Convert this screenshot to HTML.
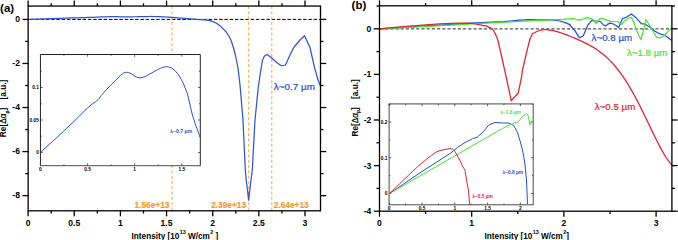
<!DOCTYPE html>
<html><head><meta charset="utf-8"><style>
html,body{margin:0;padding:0;background:#fff;}
svg{display:block;font-family:"Liberation Sans", sans-serif;}
</style></head><body>
<svg width="678" height="240" viewBox="0 0 678 240">
<line x1="28.15" y1="19.40" x2="320.50" y2="19.40" stroke="#000" stroke-width="1.0" stroke-dasharray="3.5 1.75" stroke-dashoffset="3.25"/>
<line x1="172.09" y1="6.05" x2="172.09" y2="210.80" stroke="#f4a444" stroke-width="1.2" stroke-dasharray="3 2.3" stroke-opacity="0.85"/>
<line x1="248.70" y1="6.05" x2="248.70" y2="210.80" stroke="#f4a444" stroke-width="1.2" stroke-dasharray="3 2.3" stroke-opacity="0.85"/>
<line x1="271.77" y1="6.05" x2="271.77" y2="210.80" stroke="#f4a444" stroke-width="1.2" stroke-dasharray="3 2.3" stroke-opacity="0.85"/>
<path d="M28.20,19.39 L45.33,18.86 L64.90,18.21 L71.36,17.98 L78.51,17.76 L82.03,17.68 L84.87,17.60 L87.71,17.47 L92.70,17.27 L97.40,17.11 L102.10,16.94 L106.70,16.78 L109.44,16.71 L111.98,16.68 L114.63,16.69 L117.27,16.73 L119.71,16.79 L122.06,16.84 L124.61,16.87 L126.57,16.87 L130.48,16.83 L134.49,16.75 L138.31,16.68 L142.42,16.60 L145.65,16.54 L149.08,16.50 L151.53,16.49 L153.58,16.50 L156.42,16.54 L159.65,16.61 L163.27,16.77 L167.68,17.03 L172.08,17.42 L200.00,19.60 L205.00,19.90 L209.00,20.40 L212.50,21.40 L216.00,23.00 L220.00,25.75 L223.00,28.60 L226.25,32.00 L229.00,36.30 L231.25,40.75 L233.50,48.00 L235.50,55.50 L238.00,68.00 L240.00,85.00 L243.00,120.00 L245.30,170.00 L246.20,180.00 L247.50,190.00 L248.60,200.30 L249.80,190.00 L251.00,180.00 L252.30,170.00 L255.00,120.00 L258.00,90.00 L260.00,75.00 L262.50,60.00 L264.50,56.00 L267.00,54.50 L271.25,57.50 L276.00,62.00 L281.25,65.75 L285.50,65.00 L290.00,55.00 L293.75,47.50 L300.00,40.00 L304.50,35.75 L310.00,47.50 L314.50,67.50 L318.00,80.00 L320.50,86.00" fill="none" stroke="#2d55d6" stroke-width="1.25" stroke-linejoin="round" />
<text x="169.40" y="208.40" font-size="8.3" text-anchor="end" fill="#f29a2e" font-weight="bold" stroke="#f29a2e" stroke-width="0.2">1.56e+13</text>
<text x="246.00" y="208.40" font-size="8.3" text-anchor="end" fill="#f29a2e" font-weight="bold" stroke="#f29a2e" stroke-width="0.2">2.39e+13</text>
<text x="273.80" y="208.40" font-size="8.3" text-anchor="start" fill="#f29a2e" font-weight="bold" stroke="#f29a2e" stroke-width="0.2">2.64e+13</text>
<text transform="translate(273.80,89.60) scale(1.100,1)" font-size="9" fill="#2d55d6" stroke="#2d55d6" stroke-width="0.25" font-weight="normal">λ~0.7 µm</text>
<rect x="40.45" y="54.5" width="159.85000000000002" height="111.1" fill="#fff" stroke="none"/>
<path d="M40.45,165.6 V54.5 H200.3 V165.6" fill="none" stroke="#222" stroke-width="1"/>
<line x1="39.95" y1="165.7" x2="200.8" y2="165.7" stroke="#707070" stroke-width="1.3"/>
<line x1="40.40" y1="165.60" x2="40.40" y2="163.40" stroke="#333" stroke-width="0.8" />
<line x1="40.40" y1="54.50" x2="40.40" y2="56.70" stroke="#333" stroke-width="0.8" />
<text x="40.40" y="170.60" font-size="4.8" text-anchor="middle" fill="#000" font-weight="bold" >0</text>
<line x1="63.97" y1="165.60" x2="63.97" y2="164.30" stroke="#333" stroke-width="0.8" />
<line x1="63.97" y1="54.50" x2="63.97" y2="55.80" stroke="#333" stroke-width="0.8" />
<line x1="87.55" y1="165.60" x2="87.55" y2="163.40" stroke="#333" stroke-width="0.8" />
<line x1="87.55" y1="54.50" x2="87.55" y2="56.70" stroke="#333" stroke-width="0.8" />
<text x="87.55" y="170.60" font-size="4.8" text-anchor="middle" fill="#000" font-weight="bold" >0.5</text>
<line x1="111.12" y1="165.60" x2="111.12" y2="164.30" stroke="#333" stroke-width="0.8" />
<line x1="111.12" y1="54.50" x2="111.12" y2="55.80" stroke="#333" stroke-width="0.8" />
<line x1="134.70" y1="165.60" x2="134.70" y2="163.40" stroke="#333" stroke-width="0.8" />
<line x1="134.70" y1="54.50" x2="134.70" y2="56.70" stroke="#333" stroke-width="0.8" />
<text x="134.70" y="170.60" font-size="4.8" text-anchor="middle" fill="#000" font-weight="bold" >1</text>
<line x1="158.28" y1="165.60" x2="158.28" y2="164.30" stroke="#333" stroke-width="0.8" />
<line x1="158.28" y1="54.50" x2="158.28" y2="55.80" stroke="#333" stroke-width="0.8" />
<line x1="181.85" y1="165.60" x2="181.85" y2="163.40" stroke="#333" stroke-width="0.8" />
<line x1="181.85" y1="54.50" x2="181.85" y2="56.70" stroke="#333" stroke-width="0.8" />
<text x="181.85" y="170.60" font-size="4.8" text-anchor="middle" fill="#000" font-weight="bold" >1.5</text>
<line x1="40.45" y1="152.50" x2="42.65" y2="152.50" stroke="#333" stroke-width="0.8" />
<line x1="200.30" y1="152.50" x2="198.10" y2="152.50" stroke="#333" stroke-width="0.8" />
<text x="38.85" y="154.20" font-size="4.8" text-anchor="end" fill="#000" font-weight="bold" >0</text>
<line x1="40.45" y1="136.25" x2="41.75" y2="136.25" stroke="#333" stroke-width="0.8" />
<line x1="200.30" y1="136.25" x2="199.00" y2="136.25" stroke="#333" stroke-width="0.8" />
<line x1="40.45" y1="120.00" x2="42.65" y2="120.00" stroke="#333" stroke-width="0.8" />
<line x1="200.30" y1="120.00" x2="198.10" y2="120.00" stroke="#333" stroke-width="0.8" />
<text x="38.85" y="121.70" font-size="4.8" text-anchor="end" fill="#000" font-weight="bold" >0.05</text>
<line x1="40.45" y1="103.75" x2="41.75" y2="103.75" stroke="#333" stroke-width="0.8" />
<line x1="200.30" y1="103.75" x2="199.00" y2="103.75" stroke="#333" stroke-width="0.8" />
<line x1="40.45" y1="87.50" x2="42.65" y2="87.50" stroke="#333" stroke-width="0.8" />
<line x1="200.30" y1="87.50" x2="198.10" y2="87.50" stroke="#333" stroke-width="0.8" />
<text x="38.85" y="89.20" font-size="4.8" text-anchor="end" fill="#000" font-weight="bold" >0.1</text>
<line x1="40.45" y1="71.25" x2="41.75" y2="71.25" stroke="#333" stroke-width="0.8" />
<line x1="200.30" y1="71.25" x2="199.00" y2="71.25" stroke="#333" stroke-width="0.8" />
<path d="M40.50,152.30 L58.00,136.50 L78.00,117.50 L84.60,110.60 L91.90,104.20 L95.50,101.80 L98.40,99.40 L101.30,95.60 L106.40,89.60 L111.20,84.80 L116.00,79.80 L120.70,75.20 L123.50,73.00 L126.10,72.20 L128.80,72.60 L131.50,73.80 L134.00,75.60 L136.40,77.00 L139.00,77.80 L141.00,77.90 L145.00,76.60 L149.10,74.40 L153.00,72.20 L157.20,69.80 L160.50,68.20 L164.00,67.00 L166.50,66.70 L168.60,66.90 L171.50,68.00 L174.80,70.30 L178.50,74.80 L183.00,82.50 L187.50,94.00 L192.40,115.00 L196.00,126.00 L200.30,137.50" fill="none" stroke="#2d55d6" stroke-width="1.0" stroke-linejoin="round" />
<text x="170.00" y="132.60" font-size="5.2" text-anchor="start" fill="#2d55d6" font-weight="bold" >λ~0.7 µm</text>
<rect x="28.15" y="6.05" width="292.35" height="204.75" fill="none" stroke="#000" stroke-width="1.3"/>
<line x1="28.10" y1="210.80" x2="28.10" y2="216.30" stroke="#000" stroke-width="1.3" />
<line x1="28.10" y1="6.05" x2="28.10" y2="0.55" stroke="#000" stroke-width="1.3" />
<text x="28.10" y="225.60" font-size="8.6" text-anchor="middle" fill="#000" font-weight="bold" >0</text>
<line x1="51.17" y1="210.80" x2="51.17" y2="213.50" stroke="#000" stroke-width="1.3" />
<line x1="51.17" y1="6.05" x2="51.17" y2="3.35" stroke="#000" stroke-width="1.3" />
<line x1="74.25" y1="210.80" x2="74.25" y2="216.30" stroke="#000" stroke-width="1.3" />
<line x1="74.25" y1="6.05" x2="74.25" y2="0.55" stroke="#000" stroke-width="1.3" />
<text x="74.25" y="225.60" font-size="8.6" text-anchor="middle" fill="#000" font-weight="bold" >0.5</text>
<line x1="97.32" y1="210.80" x2="97.32" y2="213.50" stroke="#000" stroke-width="1.3" />
<line x1="97.32" y1="6.05" x2="97.32" y2="3.35" stroke="#000" stroke-width="1.3" />
<line x1="120.40" y1="210.80" x2="120.40" y2="216.30" stroke="#000" stroke-width="1.3" />
<line x1="120.40" y1="6.05" x2="120.40" y2="0.55" stroke="#000" stroke-width="1.3" />
<text x="120.40" y="225.60" font-size="8.6" text-anchor="middle" fill="#000" font-weight="bold" >1</text>
<line x1="143.47" y1="210.80" x2="143.47" y2="213.50" stroke="#000" stroke-width="1.3" />
<line x1="143.47" y1="6.05" x2="143.47" y2="3.35" stroke="#000" stroke-width="1.3" />
<line x1="166.55" y1="210.80" x2="166.55" y2="216.30" stroke="#000" stroke-width="1.3" />
<line x1="166.55" y1="6.05" x2="166.55" y2="0.55" stroke="#000" stroke-width="1.3" />
<text x="166.55" y="225.60" font-size="8.6" text-anchor="middle" fill="#000" font-weight="bold" >1.5</text>
<line x1="189.62" y1="210.80" x2="189.62" y2="213.50" stroke="#000" stroke-width="1.3" />
<line x1="189.62" y1="6.05" x2="189.62" y2="3.35" stroke="#000" stroke-width="1.3" />
<line x1="212.70" y1="210.80" x2="212.70" y2="216.30" stroke="#000" stroke-width="1.3" />
<line x1="212.70" y1="6.05" x2="212.70" y2="0.55" stroke="#000" stroke-width="1.3" />
<text x="212.70" y="225.60" font-size="8.6" text-anchor="middle" fill="#000" font-weight="bold" >2</text>
<line x1="235.77" y1="210.80" x2="235.77" y2="213.50" stroke="#000" stroke-width="1.3" />
<line x1="235.77" y1="6.05" x2="235.77" y2="3.35" stroke="#000" stroke-width="1.3" />
<line x1="258.85" y1="210.80" x2="258.85" y2="216.30" stroke="#000" stroke-width="1.3" />
<line x1="258.85" y1="6.05" x2="258.85" y2="0.55" stroke="#000" stroke-width="1.3" />
<text x="258.85" y="225.60" font-size="8.6" text-anchor="middle" fill="#000" font-weight="bold" >2.5</text>
<line x1="281.93" y1="210.80" x2="281.93" y2="213.50" stroke="#000" stroke-width="1.3" />
<line x1="281.93" y1="6.05" x2="281.93" y2="3.35" stroke="#000" stroke-width="1.3" />
<line x1="305.00" y1="210.80" x2="305.00" y2="216.30" stroke="#000" stroke-width="1.3" />
<line x1="305.00" y1="6.05" x2="305.00" y2="0.55" stroke="#000" stroke-width="1.3" />
<text x="305.00" y="225.60" font-size="8.6" text-anchor="middle" fill="#000" font-weight="bold" >3</text>
<line x1="28.15" y1="19.40" x2="22.45" y2="19.40" stroke="#000" stroke-width="1.3" />
<line x1="320.50" y1="19.40" x2="326.20" y2="19.40" stroke="#000" stroke-width="1.3" />
<text x="20.00" y="22.20" font-size="8.6" text-anchor="end" fill="#000" font-weight="bold" >0</text>
<line x1="28.15" y1="41.43" x2="25.15" y2="41.43" stroke="#000" stroke-width="1.3" />
<line x1="320.50" y1="41.43" x2="323.50" y2="41.43" stroke="#000" stroke-width="1.3" />
<line x1="28.15" y1="63.46" x2="22.45" y2="63.46" stroke="#000" stroke-width="1.3" />
<line x1="320.50" y1="63.46" x2="326.20" y2="63.46" stroke="#000" stroke-width="1.3" />
<text x="20.00" y="66.26" font-size="8.6" text-anchor="end" fill="#000" font-weight="bold" >-2</text>
<line x1="28.15" y1="85.49" x2="25.15" y2="85.49" stroke="#000" stroke-width="1.3" />
<line x1="320.50" y1="85.49" x2="323.50" y2="85.49" stroke="#000" stroke-width="1.3" />
<line x1="28.15" y1="107.52" x2="22.45" y2="107.52" stroke="#000" stroke-width="1.3" />
<line x1="320.50" y1="107.52" x2="326.20" y2="107.52" stroke="#000" stroke-width="1.3" />
<text x="20.00" y="110.32" font-size="8.6" text-anchor="end" fill="#000" font-weight="bold" >-4</text>
<line x1="28.15" y1="129.55" x2="25.15" y2="129.55" stroke="#000" stroke-width="1.3" />
<line x1="320.50" y1="129.55" x2="323.50" y2="129.55" stroke="#000" stroke-width="1.3" />
<line x1="28.15" y1="151.58" x2="22.45" y2="151.58" stroke="#000" stroke-width="1.3" />
<line x1="320.50" y1="151.58" x2="326.20" y2="151.58" stroke="#000" stroke-width="1.3" />
<text x="20.00" y="154.38" font-size="8.6" text-anchor="end" fill="#000" font-weight="bold" >-6</text>
<line x1="28.15" y1="173.61" x2="25.15" y2="173.61" stroke="#000" stroke-width="1.3" />
<line x1="320.50" y1="173.61" x2="323.50" y2="173.61" stroke="#000" stroke-width="1.3" />
<line x1="28.15" y1="195.64" x2="22.45" y2="195.64" stroke="#000" stroke-width="1.3" />
<line x1="320.50" y1="195.64" x2="326.20" y2="195.64" stroke="#000" stroke-width="1.3" />
<text x="20.00" y="198.44" font-size="8.6" text-anchor="end" fill="#000" font-weight="bold" >-8</text>
<text x="131.60" y="238.50" font-size="8.2" text-anchor="start" fill="#000" font-weight="bold" >Intensity [10<tspan font-size="5.4" dx="0.4" dy="-4.4">13</tspan><tspan dy="4.4"> W/cm</tspan><tspan font-size="5.4" dx="0.4" dy="-4.4">2</tspan><tspan dy="4.4"> ]</tspan></text>
<text x="0.00" y="0.00" font-size="9.2" text-anchor="start" fill="#000" font-weight="bold" transform="translate(6.4,137.2) rotate(-90) scale(0.9,1)">Re[<tspan font-weight="normal" stroke="#000" stroke-width="0.25">Δα</tspan><tspan font-size="5.4" dy="2.4">p</tspan><tspan dy="-2.4">]</tspan></text>
<text x="0.00" y="0.00" font-size="9.2" text-anchor="start" fill="#000" font-weight="bold" transform="translate(6.4,99.4) rotate(-90) scale(0.9,1)">[a.u.]</text>
<text x="0.10" y="11.80" font-size="11.5" text-anchor="start" fill="#000" font-weight="bold" >(a)</text>
<line x1="379.50" y1="28.80" x2="671.90" y2="28.80" stroke="#555" stroke-width="1.2" stroke-dasharray="3.2 2" stroke-dashoffset="4.9"/>
<path d="M379.50,28.83 L422.79,26.14 L464.95,23.68 L475.49,22.91 L486.04,22.27 L496.58,21.79 L503.60,21.57 L512.39,20.84 L519.42,20.04 L528.20,19.72 L538.74,19.78 L547.53,19.78 L554.55,20.10 L559.82,21.00 L565.09,22.59 L568.26,23.87 L570.37,25.15 L570.00,25.30 L575.00,30.60 L577.50,35.00 L579.70,37.80 L583.30,35.80 L586.10,29.30 L588.00,24.80 L591.80,20.30 L594.80,20.90 L597.40,21.00 L600.00,21.40 L603.00,24.40 L605.30,26.10 L607.50,24.40 L609.80,23.10 L612.80,23.70 L615.70,25.20 L618.70,27.50 L622.50,18.50 L626.20,17.30 L631.50,14.00 L636.00,17.70 L641.20,23.70 L645.00,24.20 L650.50,27.50 L655.00,31.20 L659.50,33.80 L664.00,35.00 L667.70,37.20 L671.90,40.40" fill="none" stroke="#2050dc" stroke-width="1.25" stroke-linejoin="round" />
<path d="M379.50,28.83 L450.90,25.07 L486.04,23.23 L521.17,21.39 L538.74,20.47 L549.28,20.04 L556.31,19.72 L559.82,19.68 L563.34,19.40 L566.85,18.92 L572.12,18.60 L574.58,18.76 L577.39,20.04 L579.15,19.56 L581.61,19.59 L580.00,20.00 L585.00,18.40 L587.30,17.60 L591.80,18.80 L594.00,21.00 L596.30,23.70 L598.20,21.00 L600.00,18.40 L603.00,18.60 L607.50,20.30 L610.60,21.40 L617.20,21.50 L621.70,24.50 L624.00,21.50 L628.50,18.20 L631.50,17.30 L634.50,24.50 L638.20,34.20 L641.00,39.50 L643.00,32.00 L646.00,19.50 L649.00,24.50 L652.70,30.50 L656.50,37.20 L659.50,38.00 L663.20,36.50 L667.00,32.70 L671.90,27.30" fill="none" stroke="#4ae42c" stroke-width="1.25" stroke-linejoin="round" />
<path d="M379.50,28.83 L390.04,27.92 L406.34,26.49 L422.79,25.08 L439.23,23.90 L445.28,23.50 L450.90,23.29 L457.93,23.17 L464.95,23.05 L468.47,23.13 L471.98,23.42 L475.49,24.00 L479.01,24.57 L482.52,25.27 L486.04,25.85 L492.40,28.90 L495.00,33.00 L497.70,39.50 L503.00,62.50 L507.60,83.70 L511.20,100.70 L518.10,93.30 L521.25,78.75 L522.50,70.00 L526.25,53.75 L530.00,38.75 L532.50,33.75 L537.50,31.25 L540.00,30.28 L542.00,29.89 L544.00,29.69 L546.00,29.67 L548.00,29.78 L550.00,30.03 L552.00,30.38 L554.00,30.82 L556.00,31.34 L558.00,31.92 L560.00,32.55 L562.00,33.22 L564.00,33.93 L566.00,34.67 L568.00,35.43 L570.00,36.22 L572.00,37.03 L574.00,37.85 L576.00,38.70 L578.00,39.57 L580.00,40.46 L582.00,41.39 L584.00,42.34 L586.00,43.34 L588.00,44.38 L590.00,45.46 L592.00,46.61 L594.00,47.82 L596.00,49.10 L598.00,50.45 L600.00,51.89 L602.00,53.42 L604.00,55.06 L606.00,56.79 L608.00,58.64 L610.00,60.61 L612.00,62.70 L614.00,64.92 L616.00,67.27 L618.00,69.76 L620.00,72.39 L622.00,75.16 L624.00,78.08 L626.00,81.13 L628.00,84.32 L630.00,87.65 L632.00,91.12 L634.00,94.71 L636.00,98.41 L638.00,102.23 L640.00,106.15 L642.00,110.15 L644.00,114.22 L646.00,118.35 L648.00,122.51 L650.00,126.69 L652.00,130.86 L654.00,135.00 L656.00,139.07 L658.00,143.04 L660.00,146.89 L662.00,150.58 L664.00,154.06 L666.00,157.29 L668.00,160.24 L670.00,162.84 L671.90,164.96" fill="none" stroke="#e2222c" stroke-width="1.25" stroke-linejoin="round" />
<text transform="translate(591.60,41.00) scale(1.085,1)" font-size="9" fill="#2050dc" stroke="#2050dc" stroke-width="0.18" font-weight="normal">λ~0.8 µm</text>
<text transform="translate(626.90,56.10) scale(1.085,1)" font-size="9" fill="#4ae42c" stroke="#4ae42c" stroke-width="0.18" font-weight="normal">λ~1.8 µm</text>
<text transform="translate(594.70,110.40) scale(1.085,1)" font-size="9" fill="#e2222c" stroke="#e2222c" stroke-width="0.18" font-weight="normal">λ~0.5 µm</text>
<rect x="389.1" y="103.9" width="144.14999999999998" height="100.85" fill="#fff" stroke="#6a6a6a" stroke-width="1.2"/>
<line x1="389.20" y1="204.75" x2="389.20" y2="202.55" stroke="#333" stroke-width="0.8" />
<line x1="389.20" y1="103.90" x2="389.20" y2="106.10" stroke="#333" stroke-width="0.8" />
<text x="389.20" y="209.75" font-size="4.8" text-anchor="middle" fill="#000" font-weight="bold" >0</text>
<line x1="405.60" y1="204.75" x2="405.60" y2="203.45" stroke="#333" stroke-width="0.8" />
<line x1="405.60" y1="103.90" x2="405.60" y2="105.20" stroke="#333" stroke-width="0.8" />
<line x1="422.00" y1="204.75" x2="422.00" y2="202.55" stroke="#333" stroke-width="0.8" />
<line x1="422.00" y1="103.90" x2="422.00" y2="106.10" stroke="#333" stroke-width="0.8" />
<text x="422.00" y="209.75" font-size="4.8" text-anchor="middle" fill="#000" font-weight="bold" >0.5</text>
<line x1="438.40" y1="204.75" x2="438.40" y2="203.45" stroke="#333" stroke-width="0.8" />
<line x1="438.40" y1="103.90" x2="438.40" y2="105.20" stroke="#333" stroke-width="0.8" />
<line x1="454.80" y1="204.75" x2="454.80" y2="202.55" stroke="#333" stroke-width="0.8" />
<line x1="454.80" y1="103.90" x2="454.80" y2="106.10" stroke="#333" stroke-width="0.8" />
<text x="454.80" y="209.75" font-size="4.8" text-anchor="middle" fill="#000" font-weight="bold" >1</text>
<line x1="471.20" y1="204.75" x2="471.20" y2="203.45" stroke="#333" stroke-width="0.8" />
<line x1="471.20" y1="103.90" x2="471.20" y2="105.20" stroke="#333" stroke-width="0.8" />
<line x1="487.60" y1="204.75" x2="487.60" y2="202.55" stroke="#333" stroke-width="0.8" />
<line x1="487.60" y1="103.90" x2="487.60" y2="106.10" stroke="#333" stroke-width="0.8" />
<text x="487.60" y="209.75" font-size="4.8" text-anchor="middle" fill="#000" font-weight="bold" >1.5</text>
<line x1="504.00" y1="204.75" x2="504.00" y2="203.45" stroke="#333" stroke-width="0.8" />
<line x1="504.00" y1="103.90" x2="504.00" y2="105.20" stroke="#333" stroke-width="0.8" />
<line x1="520.40" y1="204.75" x2="520.40" y2="202.55" stroke="#333" stroke-width="0.8" />
<line x1="520.40" y1="103.90" x2="520.40" y2="106.10" stroke="#333" stroke-width="0.8" />
<text x="520.40" y="209.75" font-size="4.8" text-anchor="middle" fill="#000" font-weight="bold" >2</text>
<line x1="389.10" y1="193.50" x2="391.30" y2="193.50" stroke="#333" stroke-width="0.8" />
<line x1="533.25" y1="193.50" x2="531.05" y2="193.50" stroke="#333" stroke-width="0.8" />
<text x="387.50" y="195.20" font-size="4.8" text-anchor="end" fill="#000" font-weight="bold" >0</text>
<line x1="389.10" y1="175.65" x2="390.40" y2="175.65" stroke="#333" stroke-width="0.8" />
<line x1="533.25" y1="175.65" x2="531.95" y2="175.65" stroke="#333" stroke-width="0.8" />
<line x1="389.10" y1="157.80" x2="391.30" y2="157.80" stroke="#333" stroke-width="0.8" />
<line x1="533.25" y1="157.80" x2="531.05" y2="157.80" stroke="#333" stroke-width="0.8" />
<text x="387.50" y="159.50" font-size="4.8" text-anchor="end" fill="#000" font-weight="bold" >0.1</text>
<line x1="389.10" y1="139.95" x2="390.40" y2="139.95" stroke="#333" stroke-width="0.8" />
<line x1="533.25" y1="139.95" x2="531.95" y2="139.95" stroke="#333" stroke-width="0.8" />
<line x1="389.10" y1="122.10" x2="391.30" y2="122.10" stroke="#333" stroke-width="0.8" />
<line x1="533.25" y1="122.10" x2="531.05" y2="122.10" stroke="#333" stroke-width="0.8" />
<text x="387.50" y="123.80" font-size="4.8" text-anchor="end" fill="#000" font-weight="bold" >0.2</text>
<line x1="389.10" y1="104.25" x2="390.40" y2="104.25" stroke="#333" stroke-width="0.8" />
<line x1="533.25" y1="104.25" x2="531.95" y2="104.25" stroke="#333" stroke-width="0.8" />
<path d="M389.20,193.80 L420.00,172.80 L450.00,153.50 L457.50,147.50 L465.00,142.50 L472.50,138.75 L477.50,137.00 L483.75,131.25 L488.75,125.00 L495.00,122.50 L502.50,123.00 L508.75,123.00 L513.75,125.50 L517.50,132.50 L521.25,145.00 L523.50,155.00 L525.00,165.00 L526.50,180.00 L527.50,204.00" fill="none" stroke="#2050dc" stroke-width="1.0" stroke-linejoin="round" />
<path d="M389.20,193.80 L440.00,164.40 L465.00,150.00 L490.00,135.60 L502.50,128.40 L510.00,125.00 L515.00,122.50 L517.50,122.20 L520.00,120.00 L522.50,116.25 L526.25,113.75 L528.00,115.00 L530.00,125.00 L531.25,121.25 L533.00,121.50" fill="none" stroke="#4ae42c" stroke-width="1.0" stroke-linejoin="round" />
<path d="M389.20,193.80 L396.70,186.70 L408.30,175.50 L420.00,164.50 L431.70,155.20 L436.00,152.10 L440.00,150.50 L445.00,149.50 L450.00,148.60 L452.50,149.20 L455.00,151.50 L457.50,156.00 L460.00,160.50 L462.50,166.00 L465.00,170.50 L466.50,180.00 L468.50,191.00 L469.60,204.50" fill="none" stroke="#e2222c" stroke-width="1.0" stroke-linejoin="round" />
<text x="500.20" y="113.60" font-size="4.8" text-anchor="start" fill="#4ae42c" font-weight="bold" >λ~1.8 µm</text>
<text x="502.60" y="174.40" font-size="4.8" text-anchor="start" fill="#2050dc" font-weight="bold" >λ~0.8 µm</text>
<text x="472.20" y="198.20" font-size="4.8" text-anchor="start" fill="#e2222c" font-weight="bold" >λ~0.5 µm</text>
<rect x="379.5" y="5.8" width="292.4" height="205.39999999999998" fill="none" stroke="#000" stroke-width="1.3"/>
<line x1="379.50" y1="211.20" x2="379.50" y2="216.70" stroke="#000" stroke-width="1.3" />
<line x1="379.50" y1="5.80" x2="379.50" y2="0.30" stroke="#000" stroke-width="1.3" />
<text x="379.50" y="225.60" font-size="8.6" text-anchor="middle" fill="#000" font-weight="bold" >0</text>
<line x1="425.60" y1="211.20" x2="425.60" y2="213.90" stroke="#000" stroke-width="1.3" />
<line x1="425.60" y1="5.80" x2="425.60" y2="3.10" stroke="#000" stroke-width="1.3" />
<line x1="471.70" y1="211.20" x2="471.70" y2="216.70" stroke="#000" stroke-width="1.3" />
<line x1="471.70" y1="5.80" x2="471.70" y2="0.30" stroke="#000" stroke-width="1.3" />
<text x="471.70" y="225.60" font-size="8.6" text-anchor="middle" fill="#000" font-weight="bold" >1</text>
<line x1="517.80" y1="211.20" x2="517.80" y2="213.90" stroke="#000" stroke-width="1.3" />
<line x1="517.80" y1="5.80" x2="517.80" y2="3.10" stroke="#000" stroke-width="1.3" />
<line x1="563.90" y1="211.20" x2="563.90" y2="216.70" stroke="#000" stroke-width="1.3" />
<line x1="563.90" y1="5.80" x2="563.90" y2="0.30" stroke="#000" stroke-width="1.3" />
<text x="563.90" y="225.60" font-size="8.6" text-anchor="middle" fill="#000" font-weight="bold" >2</text>
<line x1="610.00" y1="211.20" x2="610.00" y2="213.90" stroke="#000" stroke-width="1.3" />
<line x1="610.00" y1="5.80" x2="610.00" y2="3.10" stroke="#000" stroke-width="1.3" />
<line x1="656.10" y1="211.20" x2="656.10" y2="216.70" stroke="#000" stroke-width="1.3" />
<line x1="656.10" y1="5.80" x2="656.10" y2="0.30" stroke="#000" stroke-width="1.3" />
<text x="656.10" y="225.60" font-size="8.6" text-anchor="middle" fill="#000" font-weight="bold" >3</text>
<line x1="379.50" y1="6.00" x2="376.50" y2="6.00" stroke="#000" stroke-width="1.3" />
<line x1="671.90" y1="6.00" x2="674.90" y2="6.00" stroke="#000" stroke-width="1.3" />
<line x1="379.50" y1="28.80" x2="373.80" y2="28.80" stroke="#000" stroke-width="1.3" />
<line x1="671.90" y1="28.80" x2="677.60" y2="28.80" stroke="#000" stroke-width="1.3" />
<text x="371.30" y="31.70" font-size="8.6" text-anchor="end" fill="#000" font-weight="bold" >0</text>
<line x1="379.50" y1="51.60" x2="376.50" y2="51.60" stroke="#000" stroke-width="1.3" />
<line x1="671.90" y1="51.60" x2="674.90" y2="51.60" stroke="#000" stroke-width="1.3" />
<line x1="379.50" y1="74.40" x2="373.80" y2="74.40" stroke="#000" stroke-width="1.3" />
<line x1="671.90" y1="74.40" x2="677.60" y2="74.40" stroke="#000" stroke-width="1.3" />
<text x="371.30" y="77.30" font-size="8.6" text-anchor="end" fill="#000" font-weight="bold" >-1</text>
<line x1="379.50" y1="97.20" x2="376.50" y2="97.20" stroke="#000" stroke-width="1.3" />
<line x1="671.90" y1="97.20" x2="674.90" y2="97.20" stroke="#000" stroke-width="1.3" />
<line x1="379.50" y1="120.00" x2="373.80" y2="120.00" stroke="#000" stroke-width="1.3" />
<line x1="671.90" y1="120.00" x2="677.60" y2="120.00" stroke="#000" stroke-width="1.3" />
<text x="371.30" y="122.90" font-size="8.6" text-anchor="end" fill="#000" font-weight="bold" >-2</text>
<line x1="379.50" y1="142.80" x2="376.50" y2="142.80" stroke="#000" stroke-width="1.3" />
<line x1="671.90" y1="142.80" x2="674.90" y2="142.80" stroke="#000" stroke-width="1.3" />
<line x1="379.50" y1="165.60" x2="373.80" y2="165.60" stroke="#000" stroke-width="1.3" />
<line x1="671.90" y1="165.60" x2="677.60" y2="165.60" stroke="#000" stroke-width="1.3" />
<text x="371.30" y="168.50" font-size="8.6" text-anchor="end" fill="#000" font-weight="bold" >-3</text>
<line x1="379.50" y1="188.40" x2="376.50" y2="188.40" stroke="#000" stroke-width="1.3" />
<line x1="671.90" y1="188.40" x2="674.90" y2="188.40" stroke="#000" stroke-width="1.3" />
<line x1="379.50" y1="211.20" x2="373.80" y2="211.20" stroke="#000" stroke-width="1.3" />
<line x1="671.90" y1="211.20" x2="677.60" y2="211.20" stroke="#000" stroke-width="1.3" />
<text x="371.30" y="214.10" font-size="8.6" text-anchor="end" fill="#000" font-weight="bold" >-4</text>
<text x="484.60" y="238.50" font-size="8.2" text-anchor="start" fill="#000" font-weight="bold" >Intensity [10<tspan font-size="5.4" dx="0.4" dy="-4.4">13</tspan><tspan dy="4.4"> W/cm</tspan><tspan font-size="5.4" dx="0.4" dy="-4.4">2</tspan><tspan dy="4.4">]</tspan></text>
<text x="0.00" y="0.00" font-size="9.2" text-anchor="start" fill="#000" font-weight="bold" transform="translate(357.7,136.6) rotate(-90) scale(0.9,1)">Re[<tspan font-weight="normal" stroke="#000" stroke-width="0.25">Δα</tspan><tspan font-size="5.4" dy="2.4">p</tspan><tspan dy="-2.4">]</tspan></text>
<text x="0.00" y="0.00" font-size="9.2" text-anchor="start" fill="#000" font-weight="bold" transform="translate(357.7,99.0) rotate(-90) scale(0.9,1)">[a.u.]</text>
<text x="351.60" y="8.80" font-size="11.5" text-anchor="start" fill="#000" font-weight="bold" >(b)</text>
</svg>
</body></html>
